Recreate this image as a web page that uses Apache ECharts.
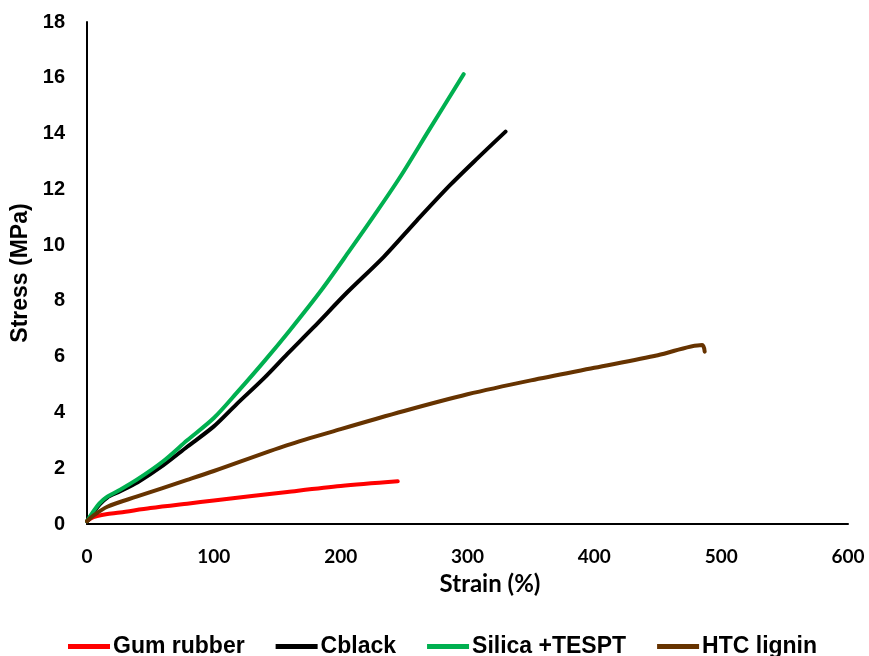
<!DOCTYPE html>
<html>
<head>
<meta charset="utf-8">
<script src="https://cdn.jsdelivr.net/npm/echarts@6/dist/echarts.min.js"></script>
<style>html,body{margin:0;padding:0;background:#fff}#c{width:869px;height:656px}</style>
</head>
<body>
<div id="c"></div>
<script>
const seriesNames = ['Gum rubber', 'Cblack', 'Silica +TESPT', 'HTC lignin'];
const gumRubber = [[0,0.1],[3,0.2],[8,0.28],[15,0.35],[26,0.41],[50,0.57],[79,0.73],[100,0.84],[130,1.0],[158,1.15],[200,1.36],[245,1.53]];
const cblack = [[0,0.1],[5,0.4],[10,0.7],[16,0.95],[25,1.15],[40,1.5],[60,2.1],[79,2.77],[100,3.5],[118,4.3],[140,5.25],[158,6.1],[178,7.02],[205,8.3],[234,9.58],[260,10.88],[286,12.14],[308,13.12],[330,14.07]];
const silica = [[0,0.1],[5,0.45],[10,0.75],[16,0.98],[25,1.2],[39,1.58],[60,2.25],[79,3.0],[100,3.8],[118,4.7],[140,5.85],[160,6.95],[185,8.4],[207,9.8],[227,11.1],[247,12.45],[270,14.15],[297,16.13]];
const htcLignin = [[0,0.1],[5,0.3],[16,0.62],[39,0.98],[79,1.58],[100,1.9],[158,2.83],[200,3.4],[250,4.05],[300,4.65],[350,5.15],[400,5.6],[450,6.05],[485,6.42],[487,6.18]];
const colors = ['#FF0000', '#000000', '#00B050', '#663300'];
const dataSets = [gumRubber, cblack, silica, htcLignin];

const chart = echarts.init(document.getElementById('c'), null, {renderer: 'canvas'});
chart.setOption({
  animation: false,
  backgroundColor: '#fff',
  grid: {left: 87, right: 21, top: 22, bottom: 132, containLabel: false},
  legend: {
    top: 630,
    left: 63,
    icon: 'rect',
    itemWidth: 42,
    itemHeight: 5,
    itemGap: 31,
    textStyle: {fontFamily: '"Liberation Sans", Arial', fontWeight: 'bold', fontSize: 23, color: '#000', padding: [0,0,0,-2]},
    data: seriesNames
  },
  xAxis: {
    type: 'value', min: 0, max: 600, interval: 100,
    name: 'Strain (%)', nameLocation: 'middle', nameGap: 48,
    nameTextStyle: {fontFamily: 'Lato, "Open Sans", sans-serif', fontWeight: 'bold', fontSize: 24, color: '#000', padding: [0,0,0,45]},
    axisLine: {lineStyle: {color: '#000', width: 2}},
    axisTick: {show: false},
    splitLine: {show: false},
    axisLabel: {fontFamily: 'Lato, "Open Sans", sans-serif', fontWeight: 'bold', fontSize: 19, color: '#000', margin: 23}
  },
  yAxis: {
    type: 'value', min: 0, max: 18, interval: 2,
    name: 'Stress (MPa)', nameLocation: 'middle', nameGap: 54, nameRotate: 90,
    nameTextStyle: {fontFamily: '"Liberation Sans", Arial', fontWeight: 'bold', fontSize: 23, color: '#000'},
    axisLine: {show: true, lineStyle: {color: '#000', width: 2}},
    axisTick: {show: false},
    splitLine: {show: false},
    axisLabel: {fontFamily: '"Liberation Sans", Arial', fontWeight: 'bold', fontSize: 20, color: '#000', margin: 22}
  },
  series: seriesNames.map((n, i) => ({
    name: n, type: 'line', data: dataSets[i], smooth: 0.3, showSymbol: false,
    color: colors[i],
    lineStyle: {color: colors[i], width: 4, cap: 'round', join: 'round'}
  }))
});
</script>
</body>
</html>
